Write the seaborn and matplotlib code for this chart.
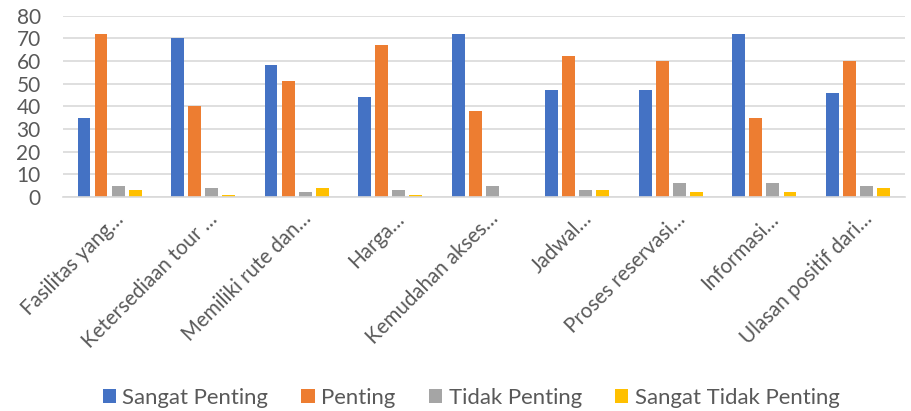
import matplotlib
matplotlib.use("Agg")
import matplotlib.pyplot as plt
import matplotlib.transforms as mtransforms
import seaborn as sns
import pandas as pd

categories = ["Fasilitas yang…", "Ketersediaan tour …", "Memiliki rute dan…", "Harga…",
              "Kemudahan akses…", "Jadwal…", "Proses reservasi…", "Informasi…",
              "Ulasan positif dari…"]
series_names = ["Sangat Penting", "Penting", "Tidak Penting", "Sangat Tidak Penting"]
sangat_penting = [35, 70, 58, 44, 72, 47, 47, 72, 46]
penting = [72, 40, 51, 67, 38, 62, 60, 35, 60]
tidak_penting = [5, 4, 2, 3, 5, 3, 6, 6, 5]
sangat_tidak_penting = [3, 1, 4, 1, 0, 3, 2, 2, 4]
colors = ["#4472C4", "#ED7D31", "#A5A5A5", "#FFC000"]
y_ticks = [0, 10, 20, 30, 40, 50, 60, 70, 80]

rows = []
for name, vals in zip(series_names, [sangat_penting, penting, tidak_penting, sangat_tidak_penting]):
    for c, v in zip(categories, vals):
        rows.append({"Kategori": c, "Seri": name, "Nilai": v})
df = pd.DataFrame(rows)

sns.set_theme(style="white")
plt.rcParams["font.family"] = ["Lato", "DejaVu Sans"]

fig = plt.figure(figsize=(9.11, 4.11), dpi=100)
ax = fig.add_axes([0.069, 0.521, 0.924, 0.441])

sns.barplot(data=df, x="Kategori", y="Nilai", hue="Seri", order=categories,
            hue_order=series_names, palette=colors, width=0.73, gap=0.25,
            ax=ax, legend=True, saturation=1, edgecolor="none")

ax.set_ylim(0, 80)
ax.set_xlim(-0.5, len(categories) - 0.5)
ax.set_yticks(y_ticks)
ax.yaxis.grid(True, color="#D9D9D9", linewidth=1.2)
ax.set_axisbelow(True)
for s in ["top", "right", "left"]:
    ax.spines[s].set_visible(False)
ax.spines["bottom"].set_color("#D9D9D9")
ax.spines["bottom"].set_linewidth(1.2)
ax.tick_params(axis="both", length=0, colors="#595959", labelsize=15)
ax.tick_params(axis="y", pad=16)
ax.set_xlabel("")
ax.set_ylabel("")
ax.set_xticks(range(len(categories)))
ax.set_xticklabels(categories, rotation=45, ha="right", va="top", rotation_mode="anchor",
                   fontsize=14.8, color="#595959")
offset = mtransforms.ScaledTranslation(4 / 100, -7 / 100, fig.dpi_scale_trans)
for lab in ax.get_xticklabels():
    lab.set_transform(lab.get_transform() + offset)

handles, labels = ax.get_legend_handles_labels()
ax.get_legend().remove()
leg = fig.legend(handles, labels, loc="center", bbox_to_anchor=(0.517, 0.032), ncol=4,
                 frameon=False, fontsize=15.9, handlelength=0.6, handleheight=0.6,
                 handletextpad=0.3, columnspacing=1.5, labelcolor="#595959")

fig.savefig("out.png", dpi=100)
